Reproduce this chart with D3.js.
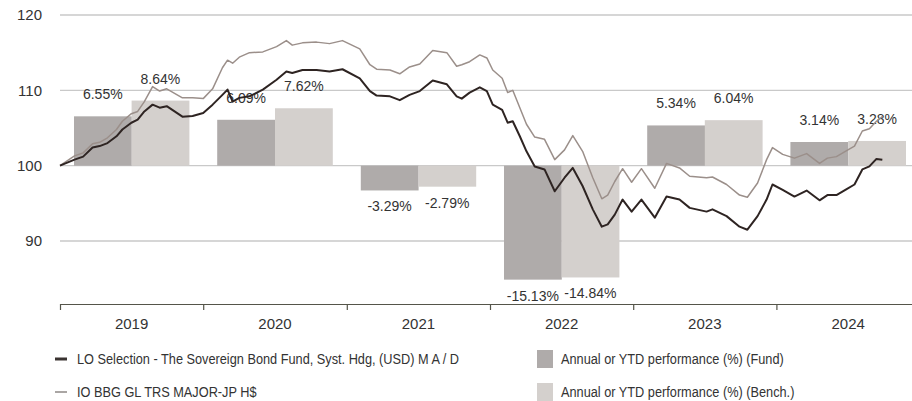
<!DOCTYPE html>
<html lang="en">
<head>
<meta charset="UTF-8">
<title>LO Selection - The Sovereign Bond Fund</title>
<script src="https://d3js.org/d3.v7.min.js"></script>
<style>
  body { margin: 0; background: #fff; }
  svg { display: block; font-family: "Liberation Sans", Arial, sans-serif; }
  .grid line { stroke: #c9c9c9; stroke-width: 1.3px; }
  .y-label, .year-label { font-size: 15px; fill: #333; }
  .bar-label { font-size: 14px; fill: #333; }
  .legend text { font-size: 15px; fill: #333; }
  .x-axis path, .x-axis line { stroke: #55554a; stroke-width: 1.2px; }
</style>
</head>
<body>
<svg width="912" height="401"></svg>
<script>
// series, base 100
const dates = [
  "2019-01-01","2019-02-07","2019-03-01","2019-03-25","2019-04-12","2019-05-02","2019-05-25","2019-06-09",
  "2019-07-02","2019-07-18","2019-08-04","2019-08-25","2019-09-12","2019-09-30","2019-10-20","2019-11-09",
  "2019-12-05","2020-01-01","2020-01-25","2020-02-19","2020-03-03","2020-03-16","2020-04-02","2020-04-28",
  "2020-06-01","2020-07-06","2020-07-31","2020-08-15","2020-09-10","2020-10-16","2020-11-18","2020-12-21",
  "2021-02-03","2021-03-01","2021-03-18","2021-04-21","2021-05-16","2021-06-10","2021-07-06","2021-08-08",
  "2021-09-13","2021-10-08","2021-10-21","2021-11-10","2021-12-06","2021-12-24","2022-01-08","2022-02-01",
  "2022-02-15","2022-02-28","2022-03-18","2022-04-04","2022-04-25","2022-05-20","2022-06-15","2022-07-10",
  "2022-07-31","2022-08-25","2022-09-20","2022-10-13","2022-10-28","2022-11-15","2022-12-05","2022-12-28",
  "2023-01-22","2023-02-25","2023-03-27","2023-04-29","2023-05-25","2023-07-07","2023-07-22","2023-08-27",
  "2023-09-29","2023-10-19","2023-11-14","2023-12-07","2023-12-22","2024-01-17","2024-02-16","2024-03-18",
  "2024-04-20","2024-05-10","2024-06-02","2024-06-28","2024-07-18","2024-08-07","2024-08-25","2024-09-12",
  "2024-09-27"
];
const fund = [
  100.0,100.8,101.2,102.4,102.6,103.0,103.9,104.8,
  105.7,106.1,107.2,108.1,107.7,107.9,107.2,106.5,
  106.6,107.0,108.1,109.4,110.1,108.5,109.0,109.2,
  110.1,111.4,112.5,112.3,112.7,112.7,112.5,112.8,
  111.6,109.9,109.3,109.2,108.7,109.4,109.9,111.3,
  110.8,109.2,108.9,109.7,110.4,109.9,108.1,107.4,
  105.7,105.9,103.9,101.9,99.9,99.5,96.6,98.4,
  99.7,97.3,94.2,91.9,92.2,93.5,95.5,93.9,
  95.5,93.1,95.9,95.5,94.4,93.9,94.2,93.3,
  91.9,91.5,93.3,95.5,97.5,96.8,95.9,96.7,
  95.4,96.1,96.1,96.9,97.5,99.5,99.9,100.9,
  100.8
];
const bench = [
  100.0,101.3,101.7,102.9,103.1,103.7,104.8,105.9,
  106.9,107.2,108.5,110.5,109.9,110.2,109.6,109.0,
  109.0,108.9,110.2,113.0,114.0,113.6,114.4,115.0,
  115.1,115.8,116.6,116.0,116.3,116.4,116.2,116.6,
  115.5,113.4,112.8,112.7,112.2,113.1,113.5,115.3,
  115.0,113.2,113.4,113.8,114.7,114.3,112.7,111.6,
  109.7,110.0,107.7,105.5,103.8,103.5,100.8,102.1,
  104.0,101.9,98.4,95.6,96.1,97.9,99.6,97.8,
  99.6,97.0,100.3,99.7,98.6,98.4,98.5,97.5,
  96.1,95.8,97.7,100.8,102.4,101.5,101.0,101.6,
  100.3,101.0,101.2,102.0,102.6,104.6,104.9,105.9,
  106.5
];

// annual / YTD performance (%)
const years = [2019, 2020, 2021, 2022, 2023, 2024];
const fundPerf = [6.55, 6.09, -3.29, -15.13, 5.34, 3.14];
const benchPerf = [8.64, 7.62, -2.79, -14.84, 6.04, 3.28];

const yTicks = [90, 100, 110, 120];

const fundName = "LO Selection - The Sovereign Bond Fund, Syst. Hdg, (USD) M A / D";
const benchName = "IO BBG GL TRS MAJOR-JP H$";
const barNames = ["Annual or YTD performance (%) (Fund)", "Annual or YTD performance (%) (Bench.)"];

const colFund = "#2e2422", colBench = "#9b8f8a";
const colBarFund = "#afabaa", colBarBench = "#d4d0cd";

const svg = d3.select("svg");
const parse = d3.timeParse("%Y-%m-%d");

const x = d3.scaleTime()
  .domain([new Date(2019, 0, 1), new Date(2025, 0, 1)])
  .range([60, 920]);
const y = d3.scaleLinear().domain([90, 120]).range([241, 15]);

// grid
svg.append("g").attr("class", "grid")
  .selectAll("line").data(yTicks).join("line")
  .attr("x1", 60).attr("x2", 912)
  .attr("y1", d => y(d)).attr("y2", d => y(d));

svg.append("g").selectAll("text").data(yTicks).join("text")
  .attr("class", "y-label")
  .attr("x", 42).attr("y", d => y(d)).attr("dy", "0.36em")
  .attr("text-anchor", "end")
  .text(d => d);

// bars
const bars = years.flatMap((yr, i) => [
  { year: yr, key: "fund", v: fundPerf[i] },
  { year: yr, key: "bench", v: benchPerf[i] }
]);
const inner = d3.scaleBand().domain(["fund", "bench"]);
function barX(d) {
  const x0 = x(new Date(d.year, 0, 1)), x1 = x(new Date(d.year + 1, 0, 1));
  inner.range([x0 + 14, x1 - 14]);
  return inner(d.key);
}

svg.append("g").selectAll("rect").data(bars).join("rect")
  .attr("x", d => barX(d))
  .attr("width", inner.bandwidth())
  .attr("y", d => Math.min(y(100), y(100 + d.v)))
  .attr("height", d => Math.abs(y(100 + d.v) - y(100)))
  .attr("fill", d => d.key === "fund" ? colBarFund : colBarBench);

svg.append("g").selectAll("text").data(bars).join("text")
  .attr("class", "bar-label")
  .attr("text-anchor", "middle")
  .attr("x", d => barX(d) + inner.bandwidth() / 2)
  .attr("y", d => d.v >= 0 ? y(100 + d.v) - 17 : y(100 + d.v) + 21)
  .text(d => d.v.toFixed(2) + "%");

// x axis
svg.append("g").attr("class", "x-axis")
  .attr("transform", "translate(0,304)")
  .call(d3.axisBottom(x).ticks(d3.timeYear.every(1)).tickSize(6).tickSizeOuter(0).tickFormat(""));

svg.append("g").selectAll("text").data(years).join("text")
  .attr("class", "year-label")
  .attr("text-anchor", "middle")
  .attr("x", d => (x(new Date(d, 0, 1)) + x(new Date(d + 1, 0, 1))) / 2)
  .attr("y", 329)
  .text(d => d);

// lines
const pts = dates.map(parse);
const line = d3.line().x((d, i) => x(pts[i])).y(d => y(d));

svg.append("path").datum(bench)
  .attr("fill", "none").attr("stroke", colBench).attr("stroke-width", 1.5)
  .attr("stroke-linejoin", "round").attr("d", line);
svg.append("path").datum(fund)
  .attr("fill", "none").attr("stroke", colFund).attr("stroke-width", 2)
  .attr("stroke-linejoin", "round").attr("d", line);

// legend (condensed look: squeeze text horizontally)
const legend = svg.append("g").attr("class", "legend");
const squeeze = 0.85;
function legText(tx, ty, s) {
  legend.append("text")
    .attr("transform", `translate(${tx},${ty}) scale(${squeeze},1)`)
    .attr("dy", "0.36em")
    .text(s);
}
legend.append("line").attr("x1", 55).attr("x2", 67).attr("y1", 359).attr("y2", 359)
  .attr("stroke", "#3a3331").attr("stroke-width", 3);
legText(77, 359, fundName);
legend.append("line").attr("x1", 55).attr("x2", 67).attr("y1", 392).attr("y2", 392)
  .attr("stroke", "#aaa6a4").attr("stroke-width", 2);
legText(77, 392, benchName);

legend.selectAll("rect").data(barNames).join("rect")
  .attr("x", 537).attr("y", (d, i) => 350 + i * 33)
  .attr("width", 16).attr("height", 18)
  .attr("fill", (d, i) => i === 0 ? colBarFund : colBarBench);
barNames.forEach((s, i) => legText(561, 359 + i * 33, s));
</script>
</body>
</html>
